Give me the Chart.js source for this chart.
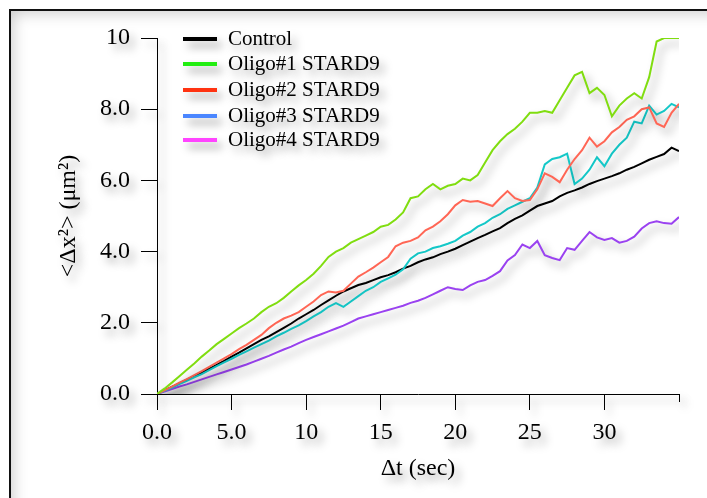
<!DOCTYPE html>
<html>
<head>
<meta charset="utf-8">
<script src="https://cdn.jsdelivr.net/npm/chart.js@4.4.1/dist/chart.umd.min.js"></script>
<style>
  html, body { margin: 0; padding: 0; background: #fff; }
  #wrap { width: 707px; height: 498px; }
</style>
</head>
<body>
<div id="wrap"><canvas id="msd" width="707" height="498"></canvas></div>
<script>
// time lag (sec)
const times = [0,0.5,1,1.5,2,2.5,3,3.5,4,4.5,5,5.5,6,6.5,7,7.5,8,8.5,9,9.5,10,10.5,11,11.5,12,12.5,13,13.5,14,14.5,15,15.5,16,16.5,17,17.5,18,18.5,19,19.5,20,20.5,21,21.5,22,22.5,23,23.5,24,24.5,25,25.5,26,26.5,27,27.5,28,28.5,29,29.5,30,30.5,31,31.5,32,32.5,33,33.5,34,34.5,35];

const seriesNames = ["Control","Oligo#1 STARD9","Oligo#2 STARD9","Oligo#3 STARD9","Oligo#4 STARD9"];
const lineColors = ["#000000","#80dd10","#ff6655","#14c8c8","#9a42f0"];
const legendColors = ["#000000","#22ee11","#ff3311","#4a86ff","#ff44ff"];

const control = [0,0.1,0.2,0.3,0.4,0.5,0.6,0.71,0.82,0.93,1.05,1.16,1.28,1.4,1.52,1.62,1.74,1.86,1.98,2.12,2.24,2.36,2.5,2.63,2.76,2.88,2.97,3.06,3.12,3.2,3.28,3.34,3.42,3.52,3.6,3.7,3.78,3.84,3.93,4.0,4.08,4.18,4.28,4.38,4.47,4.57,4.66,4.8,4.92,5.02,5.15,5.28,5.35,5.42,5.55,5.65,5.72,5.8,5.9,5.98,6.05,6.12,6.2,6.3,6.38,6.48,6.58,6.66,6.74,6.92,6.82];
const oligo1 = [0,0.15,0.32,0.5,0.68,0.86,1.05,1.22,1.4,1.55,1.7,1.85,1.98,2.12,2.3,2.45,2.55,2.7,2.88,3.05,3.2,3.38,3.6,3.85,4.0,4.1,4.25,4.35,4.45,4.55,4.7,4.75,4.9,5.1,5.5,5.55,5.75,5.9,5.75,5.85,5.9,6.05,6.0,6.15,6.5,6.85,7.1,7.3,7.45,7.65,7.9,7.9,7.95,7.9,8.25,8.6,8.95,9.05,8.45,8.6,8.4,7.8,8.1,8.3,8.45,8.3,8.9,9.9,10,10,10];
const oligo2 = [0,0.1,0.21,0.32,0.42,0.53,0.64,0.76,0.88,1.0,1.12,1.26,1.38,1.52,1.66,1.85,2.0,2.12,2.2,2.3,2.45,2.6,2.78,2.88,2.85,2.9,3.1,3.3,3.42,3.55,3.7,3.85,4.15,4.25,4.3,4.4,4.6,4.7,4.85,5.05,5.3,5.45,5.4,5.42,5.35,5.28,5.5,5.7,5.5,5.42,5.45,5.75,6.2,6.1,5.95,6.3,6.6,6.85,7.2,6.95,7.1,7.35,7.5,7.7,7.8,8.0,8.05,7.6,7.5,7.9,8.15];
const oligo3 = [0,0.09,0.18,0.28,0.37,0.47,0.56,0.67,0.78,0.89,0.99,1.1,1.2,1.3,1.4,1.5,1.62,1.72,1.83,1.93,2.05,2.18,2.3,2.45,2.55,2.45,2.6,2.75,2.9,3.0,3.15,3.25,3.35,3.5,3.8,3.95,4.0,4.1,4.15,4.22,4.3,4.45,4.55,4.7,4.8,4.95,5.05,5.2,5.3,5.4,5.5,5.8,6.45,6.6,6.65,6.75,5.9,6.05,6.3,6.65,6.4,6.75,7.0,7.2,7.65,7.6,8.1,7.85,7.95,8.15,8.05];
const oligo4 = [0,0.07,0.14,0.21,0.27,0.34,0.41,0.48,0.55,0.62,0.69,0.76,0.83,0.91,0.99,1.07,1.16,1.25,1.33,1.43,1.52,1.6,1.68,1.76,1.84,1.92,2.02,2.12,2.18,2.24,2.3,2.36,2.42,2.48,2.56,2.62,2.7,2.8,2.9,3.0,2.95,2.92,3.05,3.15,3.2,3.32,3.45,3.75,3.9,4.2,4.1,4.3,3.9,3.82,3.76,4.1,4.05,4.3,4.55,4.4,4.33,4.38,4.25,4.3,4.42,4.65,4.8,4.85,4.8,4.78,4.97];

const allSeries = [control, oligo1, oligo2, oligo3, oligo4];
const serif = "'Liberation Serif', 'Times New Roman', serif";

const datasets = allSeries.map((vals, i) => ({
  label: seriesNames[i],
  data: times.map((t, j) => ({ x: t, y: vals[j] })),
  borderColor: lineColors[i],
  borderWidth: 2,
  pointRadius: 0,
  tension: 0,
  fill: false
}));
// draw control on top
datasets.push(datasets.shift());

function setShadow(ctx) {
  ctx.shadowColor = "rgba(0,0,0,0.36)";
  ctx.shadowBlur = 8;
  ctx.shadowOffsetX = 5;
  ctx.shadowOffsetY = 6;
}
function noShadow(ctx) {
  ctx.shadowColor = "rgba(0,0,0,0)";
  ctx.shadowBlur = 0;
  ctx.shadowOffsetX = 0;
  ctx.shadowOffsetY = 0;
}

const framePlugin = {
  id: "frame",
  beforeDraw(chart) {
    const ctx = chart.ctx;
    ctx.save();
    noShadow(ctx);
    ctx.fillStyle = "#ffffff";
    ctx.fillRect(0, 0, chart.width, chart.height);
    // inner shadow along the frame
    ctx.save();
    ctx.beginPath();
    ctx.rect(11, 11, 800, 600);
    ctx.clip();
    ctx.shadowColor = "rgba(0,0,0,0.3)";
    ctx.shadowBlur = 16;
    ctx.strokeStyle = "#000";
    ctx.lineWidth = 10;
    ctx.strokeRect(6, 6, 810, 610);
    ctx.restore();
    ctx.strokeStyle = "#111";
    ctx.lineWidth = 2;
    ctx.strokeRect(10, 10, 800, 600);
    ctx.restore();
    setShadow(ctx);
  },
  afterDatasetsDraw(chart) {
    const ctx = chart.ctx;
    ctx.save();
    setShadow(ctx);
    // short end tick at 35 on the x axis
    const xs = chart.scales.x;
    const px = Math.round(xs.getPixelForValue(35)) + 0.5;
    ctx.strokeStyle = "#000";
    ctx.lineWidth = 1;
    ctx.beginPath();
    ctx.moveTo(px, chart.chartArea.bottom);
    ctx.lineTo(px, chart.chartArea.bottom + 8);
    ctx.stroke();
    // legend
    ctx.font = "21px " + serif;
    ctx.textBaseline = "middle";
    const rows = [39, 64, 90, 116, 140];
    seriesNames.forEach((name, i) => {
      ctx.strokeStyle = legendColors[i];
      ctx.lineWidth = 4;
      ctx.beginPath();
      ctx.moveTo(183, rows[i]);
      ctx.lineTo(217, rows[i]);
      ctx.stroke();
      ctx.fillStyle = "#000";
      ctx.fillText(name, 228, rows[i]);
    });
    ctx.restore();
  },
  afterDraw(chart) {
    noShadow(chart.ctx);
  }
};

new Chart(document.getElementById("msd"), {
  type: "line",
  data: { datasets },
  options: {
    responsive: false,
    animation: false,
    events: [],
    layout: { padding: { left: 0, right: 28, top: 38, bottom: 0 } },
    plugins: { legend: { display: false }, tooltip: { enabled: false } },
    scales: {
      x: {
        type: "linear",
        min: 0,
        max: 35,
        afterFit: s => { s.height = 104; },
        border: { display: true, color: "#000", width: 1 },
        grid: {
          drawOnChartArea: false,
          tickLength: 16,
          tickColor: c => (c.tick && c.tick.value === 35 ? "rgba(0,0,0,0)" : "#000")
        },
        ticks: {
          stepSize: 5,
          padding: 8,
          color: "#000",
          font: { family: serif, size: 24 },
          maxRotation: 0,
          callback: v => (v === 35 ? "" : v < 10 ? v.toFixed(1) : String(v))
        },
        title: {
          display: true,
          text: "Δt (sec)",
          color: "#000",
          font: { family: serif, size: 24 },
          padding: { top: 0, bottom: 15 }
        }
      },
      y: {
        min: 0,
        max: 10,
        afterFit: s => { s.width = 157; },
        border: { display: true, color: "#000", width: 1 },
        grid: { drawOnChartArea: false, tickLength: 16, tickColor: "#000" },
        ticks: {
          stepSize: 2,
          padding: 11,
          color: "#000",
          font: { family: serif, size: 24 },
          callback: v => (v === 10 ? "10" : v.toFixed(1))
        },
        title: {
          display: true,
          text: "<Δx²> (μm²)",
          color: "#000",
          font: { family: serif, size: 24 },
          padding: { top: 54, bottom: 0 }
        }
      }
    }
  },
  plugins: [framePlugin]
});
</script>
</body>
</html>
